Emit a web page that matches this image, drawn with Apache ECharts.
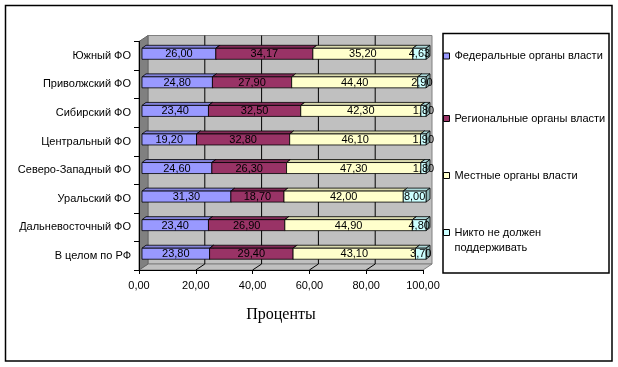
<!DOCTYPE html>
<html><head><meta charset="utf-8">
<script src="https://cdn.jsdelivr.net/npm/echarts@6/dist/echarts.min.js"></script>
<style>html,body{margin:0;padding:0;background:#fff}#c{width:618px;height:367px}</style>
</head><body><div id="c"></div>
<script>
const categories = ['Южный ФО','Приволжский ФО','Сибирский ФО','Центральный ФО','Северо-Западный ФО','Уральский ФО','Дальневосточный ФО','В целом по РФ'];
const federal  = [26.00, 24.80, 23.40, 19.20, 24.60, 31.30, 23.40, 23.80];
const regional = [34.17, 27.90, 32.50, 32.80, 26.30, 18.70, 26.90, 29.40];
const local    = [35.20, 44.40, 42.30, 46.10, 47.30, 42.00, 44.90, 43.10];
const nobody   = [4.63, 2.90, 1.80, 1.90, 1.80, 8.00, 4.80, 3.70];
const seriesNames = ['Федеральные органы власти','Региональные органы власти','Местные органы власти','Никто не должен\nподдерживать'];
const xTicks = [0, 20, 40, 60, 80, 100];
const axisTitle = 'Проценты';

const colors = ['#9999FF','#993366','#FFFFCC','#CCFFFF'];
const FONT = '"Liberation Sans", Arial, sans-serif';
const fmt = v => v.toFixed(2).replace('.', ',');

function shade(hex, f) {
  const n = parseInt(hex.slice(1), 16);
  const r = Math.round(((n >> 16) & 255) * f), g = Math.round(((n >> 8) & 255) * f), b = Math.round((n & 255) * f);
  return 'rgb(' + r + ',' + g + ',' + b + ')';
}

const allValues = [federal, regional, local, nobody];
const DX = 9, DY = 6;

function barRender(color) {
  return function (params, api) {
    const s = api.value(0), e = api.value(1), ci = api.value(2), v = api.value(3);
    const p0 = api.coord([s, ci]), p1 = api.coord([e, ci]);
    const ox = 3, oy = -2, bdx = 4, bdy = 3, bh = 11;
    const x0 = p0[0] + ox, x1 = p1[0] + ox, yc = p0[1] + oy;
    const yt = yc - bh / 2, yb = yc + bh / 2;
    const line = {stroke: '#000', lineWidth: 0.8};
    return {
      type: 'group',
      children: [
        {type: 'polygon', shape: {points: [[x0, yt], [x0 + bdx, yt - bdy], [x1 + bdx, yt - bdy], [x1, yt]]},
          style: Object.assign({fill: shade(color, 0.85)}, line)},
        {type: 'polygon', shape: {points: [[x1, yt], [x1 + bdx, yt - bdy], [x1 + bdx, yb - bdy], [x1, yb]]},
          style: Object.assign({fill: shade(color, 0.7)}, line)},
        {type: 'rect', shape: {x: x0, y: yt, width: x1 - x0, height: bh},
          style: Object.assign({fill: color}, line)},
        {type: 'text', z2: 10, style: {text: fmt(v), x: (x0 + x1) / 2, y: yc + 0.5, align: 'center', verticalAlign: 'middle',
          fill: '#000', fontSize: 11, fontFamily: FONT}}
      ]
    };
  };
}

const barSeries = allValues.map((arr, k) => ({
  type: 'custom',
  name: seriesNames[k],
  z: 3,
  itemStyle: {color: colors[k]},
  encode: {x: [0, 1], y: 2},
  renderItem: barRender(colors[k]),
  data: arr.map((v, i) => {
    let s = 0;
    for (let j = 0; j < k; j++) s += allValues[j][i];
    return [s, s + v, i, v];
  })
}));

const wallSeries = {
  type: 'custom',
  name: 'walls',
  z: 1,
  silent: true,
  encode: {x: 0, y: 1},
  data: [[0, 0]],
  renderItem: function (params, api) {
    const cs = params.coordSys;
    const L = cs.x, T = cs.y, R = cs.x + cs.width, B = cs.y + cs.height;
    const children = [
      {type: 'rect', shape: {x: L + DX, y: T - DY, width: cs.width, height: cs.height},
        style: {fill: '#C0C0C0', stroke: '#808080', lineWidth: 1}},
      {type: 'polygon', shape: {points: [[L, B], [L + DX, B - DY], [R + DX, B - DY], [R, B]]},
        style: {fill: '#C0C0C0', stroke: '#808080', lineWidth: 1}},
      {type: 'polygon', shape: {points: [[L, T], [L + DX, T - DY], [L + DX, B - DY], [L, B]]},
        style: {fill: '#808080', stroke: '#666', lineWidth: 1}}
    ];
    xTicks.slice(1, -1).forEach(t => {
      const x = api.coord([t, 0])[0];
      children.push({type: 'line', shape: {x1: x + DX, y1: T - DY, x2: x + DX, y2: B - DY}, style: {stroke: '#000', lineWidth: 1}});
      children.push({type: 'line', shape: {x1: x, y1: B, x2: x + DX, y2: B - DY}, style: {stroke: '#000', lineWidth: 1}});
    });
    return {type: 'group', children: children};
  }
};

const legendTops = [48.5, 111, 168, 210];
const legends = seriesNames.map((n, k) => ({
  left: 443, top: legendTops[k], orient: 'vertical', padding: 0,
  itemWidth: 6, itemHeight: 6, icon: 'rect',
  itemStyle: {borderColor: '#000', borderWidth: 1},
  textStyle: {fontSize: 11, fontFamily: FONT, color: '#000', lineHeight: 15},
  formatter: k === 3 ? (name => '\n' + name) : (name => name),
  selectedMode: false,
  data: [n]
}));

const chart = echarts.init(document.getElementById('c'), null, {renderer: 'canvas'});
chart.setOption({
  animation: false,
  backgroundColor: '#fff',
  graphic: [
    {type: 'rect', shape: {x: 5.5, y: 5.5, width: 606.5, height: 355.5}, style: {fill: 'none', stroke: '#000', lineWidth: 1.5}, z: 0},
    {type: 'rect', shape: {x: 443, y: 33.5, width: 166, height: 239.5}, style: {fill: 'none', stroke: '#000', lineWidth: 1.5}, z: 0}
  ],
  legend: legends,
  grid: {left: 139, right: 195, top: 41.5, bottom: 97, containLabel: false, outerBoundsMode: 'none'},
  xAxis: {
    type: 'value', min: 0, max: 100, interval: 20, z: 5,
    axisLine: {show: true, lineStyle: {color: '#000', width: 1}},
    axisTick: {show: true, length: 4, lineStyle: {color: '#000'}},
    splitLine: {show: false},
    axisLabel: {formatter: v => fmt(v), fontSize: 11, fontFamily: FONT, color: '#000', margin: 10},
    name: axisTitle, nameLocation: 'middle', nameGap: 37,
    nameTextStyle: {fontSize: 16, fontFamily: '"Liberation Serif", "Times New Roman", serif', color: '#000'}
  },
  yAxis: {
    type: 'category', data: categories, inverse: true, z: 5,
    axisLine: {show: true, lineStyle: {color: '#000', width: 1}},
    axisTick: {show: true, length: 5, lineStyle: {color: '#000'}},
    axisLabel: {fontSize: 11, fontFamily: FONT, color: '#000', margin: 8},
    splitLine: {show: false}
  },
  series: [wallSeries].concat(barSeries)
});
</script></body></html>
